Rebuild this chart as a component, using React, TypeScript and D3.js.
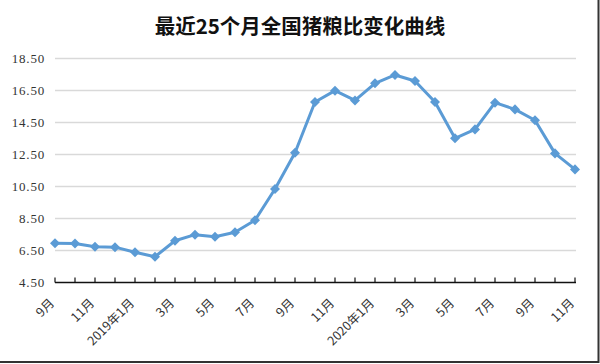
import React from "react";
import * as d3 from "d3";

const title = "最近25个月全国猪粮比变化曲线";
const months = [
  "9月", "10月", "11月", "12月", "2019年1月", "2月", "3月", "4月", "5月", "6月", "7月", "8月",
  "9月", "10月", "11月", "12月", "2020年1月", "2月", "3月", "4月", "5月", "6月", "7月", "8月",
  "9月", "10月", "11月",
];
const values = [
  6.95, 6.94, 6.74, 6.71, 6.39, 6.11, 7.11, 7.49, 7.36, 7.64, 8.39, 10.34,
  12.61, 15.78, 16.49, 15.88, 16.95, 17.47, 17.09, 15.78, 13.51, 14.07, 15.74, 15.32,
  14.64, 12.57, 11.57,
];
const yTicks = [4.5, 6.5, 8.5, 10.5, 12.5, 14.5, 16.5, 18.5];

export default function App() {
  const W = 600, H = 364;
  const x = d3.scaleLinear().domain([0, months.length - 1]).range([55, 575]);
  const y = d3.scaleLinear().domain([4.5, 18.5]).range([282.5, 58.5]);
  const line = d3.line<number>().x((_, i) => x(i)).y((d) => y(d));
  const diamond = d3.symbol().type(d3.symbolDiamond2 ?? d3.symbolDiamond).size(64)();
  return (
    <svg width={W} height={H} style={{ position: "absolute", left: 0, top: 0, background: "#fff" }}>
      <rect x={0} y={0} width={W} height={H} fill="#fff" />
      <text x={300} y={34} textAnchor="middle" fontFamily="'Noto Sans CJK SC'" fontWeight={700} fontSize={20.5} fill="#111">
        {title}
      </text>
      {yTicks.map((t) => (
        <g key={t}>
          {t > 4.5 && (
            <line x1={55} x2={576} y1={y(t)} y2={y(t)} stroke="#d9d9d9" strokeWidth={1.5} />
          )}
          <text x={45} y={y(t) + 4.5} textAnchor="end" fontFamily="'Liberation Serif', serif" fontSize={13} letterSpacing={0.8} fill="#333">
            {t.toFixed(2)}
          </text>
        </g>
      ))}
      <line x1={55} x2={576} y1={y(4.5)} y2={y(4.5)} stroke="#111" strokeWidth={1.5} />
      {months.map((m, i) => (
        <line key={"t" + i} x1={x(i)} x2={x(i)} y1={y(4.5)} y2={y(4.5) - 5} stroke="#111" strokeWidth={1.2} />
      ))}
      {months.map((m, i) =>
        i % 2 === 0 ? (
          <text
            key={"l" + i}
            transform={`translate(${x(i)},${304}) rotate(-45)`}
            textAnchor="end"
            fontFamily="'Noto Sans CJK SC'"
            fontSize={12.5}
            fill="#333"
          >
            {m}
          </text>
        ) : null
      )}
      <path d={line(values) || ""} fill="none" stroke="#5b9bd5" strokeWidth={3} strokeLinejoin="round" />
      {values.map((v, i) => (
        <path key={"m" + i} d={diamond || ""} transform={`translate(${x(i)},${y(v)})`} fill="#5b9bd5" />
      ))}
      <line x1={598.5} x2={598.5} y1={0} y2={363} stroke="#333" strokeWidth={2} />
      <line x1={0} x2={599} y1={362} y2={362} stroke="#333" strokeWidth={2} />
    </svg>
  );
}
